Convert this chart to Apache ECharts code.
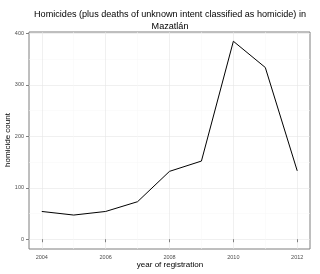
<!DOCTYPE html>
<html><head><meta charset="utf-8">
<script src="https://cdn.jsdelivr.net/npm/echarts@6/dist/echarts.min.js"></script>
<style>html,body{margin:0;padding:0;background:#fff}#c{width:320px;height:274px}</style>
</head><body><div id="c"></div>
<script>
const years = [2004, 2005, 2006, 2007, 2008, 2009, 2010, 2011, 2012];
const homicides = [54, 47, 54, 73, 132, 152, 385, 334, 133];
const yTicks = [0, 100, 200, 300, 400];
const yMinor = [50, 150, 250, 350];
const xTicks = [2004, 2006, 2008, 2010, 2012];
const xMinor = [2005, 2007, 2009, 2011];
const titleText = 'Homicides (plus deaths of unknown intent classified as homicide) in\nMazatlán';
const xName = 'year of registration';
const yName = 'homicide count';

const chart = echarts.init(document.getElementById('c'), null, {renderer: 'canvas'});
const font = 'Liberation Sans, Arial, sans-serif';
const grid = {left: 29, right: 10, top: 32, bottom: 25, containLabel: false, outerBoundsMode: 'none',
  show: true, borderColor: '#7f7f7f', borderWidth: 1, backgroundColor: '#fff'};
const xBase = {type: 'value', min: 2003.6, max: 2012.4, gridIndex: 0};
const yBase = {type: 'value', min: -19, max: 403, gridIndex: 0};
chart.setOption({
  animation: false,
  graphic: [{
    type: 'text', x: 170, y: 9, z: 10,
    style: {text: titleText, align: 'center', verticalAlign: 'top', fontFamily: font, fontSize: 9.1, fill: '#000', lineHeight: 11.5}
  }, {
    type: 'text', x: 170, y: 265, z: 10,
    style: {text: xName, align: 'center', verticalAlign: 'middle', fontFamily: font, fontSize: 8, fill: '#000'}
  }, {
    type: 'text', x: 8, y: 140, rotation: Math.PI / 2, z: 10,
    style: {text: yName, align: 'center', verticalAlign: 'middle', fontFamily: font, fontSize: 8, fill: '#000'}
  }],
  grid: grid,
  xAxis: [
    Object.assign({}, xBase, {
      axisLine: {show: false},
      axisTick: {show: true, length: 3, lineStyle: {color: '#7f7f7f'}, customValues: xTicks},
      axisLabel: {fontFamily: font, fontSize: 5.5, color: '#4d4d4d', margin: 5, customValues: xTicks, formatter: v => String(v)},
      splitLine: {show: true, lineStyle: {color: '#e5e5e5', width: 0.6}}
    }),
    Object.assign({}, xBase, {
      axisLine: {show: false}, axisTick: {show: false, customValues: xMinor},
      axisLabel: {show: false, customValues: xMinor},
      splitLine: {show: true, lineStyle: {color: '#f7f7f7', width: 0.5}}
    })
  ],
  yAxis: [
    Object.assign({}, yBase, {
      axisLine: {show: false},
      axisTick: {show: true, length: 3, lineStyle: {color: '#7f7f7f'}, customValues: yTicks},
      axisLabel: {fontFamily: font, fontSize: 5.5, color: '#4d4d4d', margin: 5, customValues: yTicks},
      splitLine: {show: true, lineStyle: {color: '#e5e5e5', width: 0.6}}
    }),
    Object.assign({}, yBase, {
      position: 'left',
      axisLine: {show: false}, axisTick: {show: false, customValues: yMinor},
      axisLabel: {show: false, customValues: yMinor},
      splitLine: {show: true, lineStyle: {color: '#f7f7f7', width: 0.5}}
    })
  ],
  series: [{
    type: 'line', xAxisIndex: 0, yAxisIndex: 0,
    data: years.map((y, i) => [y, homicides[i]]),
    showSymbol: false, symbol: 'none',
    lineStyle: {color: '#000', width: 1}
  }]
});
</script></body></html>
